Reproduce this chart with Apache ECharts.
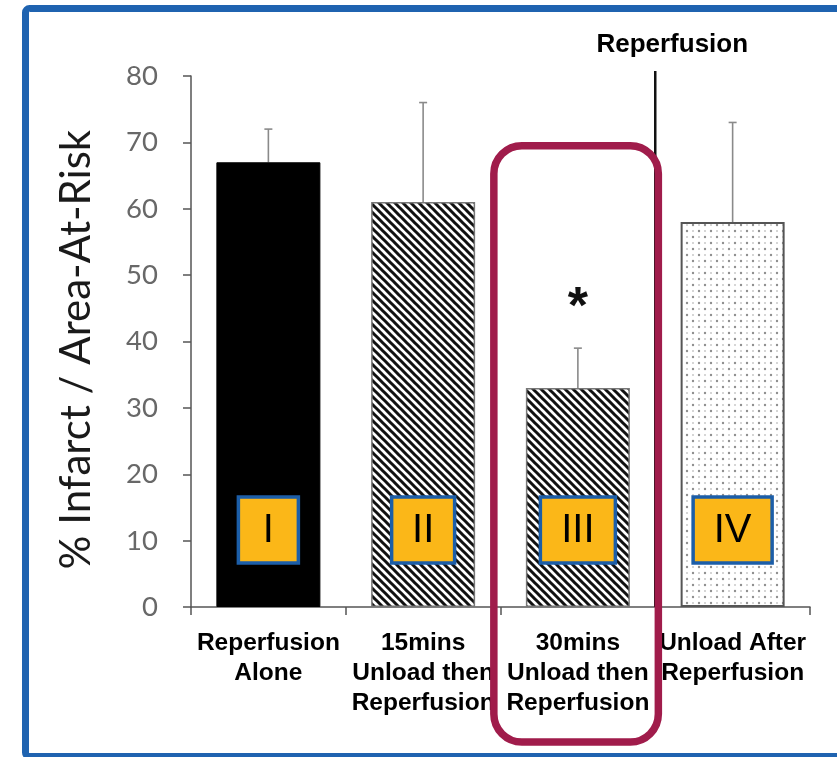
<!DOCTYPE html>
<html>
<head>
<meta charset="utf-8">
<script src="https://cdn.jsdelivr.net/npm/echarts@6/dist/echarts.min.js"></script>
<style>
html,body{margin:0;padding:0;background:#fff;}
#chart{width:837px;height:757px;}
</style>
</head>
<body>
<div id="chart"></div>
<script>
// ---- data ----
const categories = ['Reperfusion\nAlone', '15mins\nUnload then\nReperfusion', '30mins\nUnload then\nReperfusion', 'Unload After\nReperfusion'];
const values = [67, 61, 33, 58];
const errorsUp = [5, 15, 6, 15];
const groupNumerals = ['I', 'II', 'III', 'IV'];
const significance = ['', '', '*', ''];
const yTicks = [0, 10, 20, 30, 40, 50, 60, 70, 80];
const yAxisTitle = '% Infarct / Area-At-Risk';
const eventLabel = 'Reperfusion';

// ---- styles ----
const numeralBoxWidths = [60, 63, 75, 79];
const numeralLevel = 11.6;

function hatchPattern() {
  const s = 8, c = document.createElement('canvas');
  c.width = s; c.height = s;
  const g = c.getContext('2d');
  g.fillStyle = '#fff'; g.fillRect(0, 0, s, s);
  g.strokeStyle = '#111'; g.lineWidth = 3;
  g.beginPath();
  g.moveTo(-2, -2); g.lineTo(s + 2, s + 2);
  g.moveTo(-2, s - 2); g.lineTo(2, s + 2);
  g.moveTo(s - 2, -2); g.lineTo(s + 2, 2);
  g.stroke();
  return c;
}
function dotPattern() {
  const s = 12, c = document.createElement('canvas');
  c.width = s; c.height = s;
  const g = c.getContext('2d');
  g.fillStyle = '#fff'; g.fillRect(0, 0, s, s);
  const dot = (x, y, r, col) => { g.fillStyle = col; g.beginPath(); g.arc(x, y, r, 0, Math.PI * 2); g.fill(); };
  dot(3, 3, 1.2, '#8f8f8f');
  dot(9, 9, 1.2, '#8f8f8f');
  dot(9, 3, 1.0, '#c8c8c8');
  dot(3, 9, 1.0, '#c8c8c8');
  return c;
}

const fills = [
  { color: '#000', borderColor: '#000', borderWidth: 1 },
  { color: { image: hatchPattern(), repeat: 'repeat' }, borderColor: '#777', borderWidth: 1.5 },
  { color: { image: hatchPattern(), repeat: 'repeat' }, borderColor: '#777', borderWidth: 1.5 },
  { color: { image: dotPattern(), repeat: 'repeat' }, borderColor: '#555', borderWidth: 2 }
];

const chart = echarts.init(document.getElementById('chart'), null, { renderer: 'canvas' });

const option = {
  animation: false,
  backgroundColor: '#fff',
  grid: { left: 191, right: 27, top: 76, bottom: 150, containLabel: false, outerBoundsMode: 'none' },
  xAxis: {
    type: 'category',
    data: categories,
    boundaryGap: true,
    axisLine: { show: true, lineStyle: { color: '#555', width: 1.5 } },
    axisTick: { show: true, length: 8, alignWithLabel: false, lineStyle: { color: '#555', width: 1.5 } },
    axisLabel: {
      interval: 0, margin: 21, color: '#000', fontSize: 24.5, fontWeight: 'bold',
      fontFamily: '"Liberation Sans", Arial, sans-serif', lineHeight: 30
    },
    splitLine: { show: false }
  },
  yAxis: {
    type: 'value',
    min: yTicks[0], max: yTicks[yTicks.length - 1], interval: 10,
    name: yAxisTitle,
    nameLocation: 'middle',
    nameGap: 94,
    nameTextStyle: { fontSize: 42, color: '#1a1a1a', fontFamily: 'Lato, "Open Sans", sans-serif', padding: [0, 16, 0, 0] },
    axisLine: { show: true, lineStyle: { color: '#555', width: 1.5 } },
    axisTick: { show: true, length: 8, lineStyle: { color: '#555', width: 1.5 } },
    axisLabel: { margin: 33, color: '#686868', fontSize: 27.5, fontFamily: 'Lato, "Open Sans", sans-serif' },
    splitLine: { show: false }
  },
  series: [
    {
      type: 'custom',
      name: 'errors',
      z: 1,
      data: values.map((v, i) => [i, v, v + errorsUp[i]]),
      renderItem: function (params, api) {
        const i = params.dataIndex;
        const base = api.coord([api.value(0), api.value(1)]);
        const top = api.coord([api.value(0), api.value(2)]);
        const children = [
          { type: 'line', shape: { x1: base[0], y1: base[1], x2: top[0], y2: top[1] }, style: { stroke: '#8a8a8a', lineWidth: 1.6 } },
          { type: 'line', shape: { x1: top[0] - 4, y1: top[1], x2: top[0] + 4, y2: top[1] }, style: { stroke: '#8a8a8a', lineWidth: 1.6 } }
        ];
        if (significance[i]) {
          children.push({
            type: 'text',
            style: { text: significance[i], x: top[0], y: top[1] - 39, align: 'center', verticalAlign: 'middle',
              font: 'bold 52px "Liberation Sans", Arial, sans-serif', fill: '#111' }
          });
        }
        return { type: 'group', children: children };
      }
    },
    {
      type: 'bar',
      name: 'infarct',
      barWidth: 104,
      z: 2,
      data: values.map((v, i) => ({ value: v, itemStyle: fills[i] }))
    },
    {
      type: 'custom',
      name: 'numerals',
      z: 3,
      data: groupNumerals.map((n, i) => [i, numeralLevel]),
      renderItem: function (params, api) {
        const i = params.dataIndex;
        const p = api.coord([api.value(0), api.value(1)]);
        const w = numeralBoxWidths[i], h = 66;
        return {
          type: 'group',
          children: [
            { type: 'rect', shape: { x: p[0] - w / 2, y: p[1] - h / 2, width: w, height: h },
              style: { fill: '#fbb718', stroke: '#1c5ea8', lineWidth: 3.5 } },
            { type: 'text', style: { text: groupNumerals[i], x: p[0], y: p[1] + 1, align: 'center', verticalAlign: 'middle',
              font: '40px "Liberation Sans", Arial, sans-serif', fill: '#000' } }
          ]
        };
      }
    }
  ]
};
chart.setOption(option);

// ---- annotations derived from the axes ----
const c2 = chart.convertToPixel({ xAxisIndex: 0 }, 2);
const c3 = chart.convertToPixel({ xAxisIndex: 0 }, 3);
const band = c3 - c2;
const yTop = chart.convertToPixel({ yAxisIndex: 0 }, yTicks[yTicks.length - 1]);
const yBase = chart.convertToPixel({ yAxisIndex: 0 }, 0);
const boundary = (c2 + c3) / 2;
const boxLeft = c2 - 0.543 * band;
const boxRight = c2 + 0.52 * band;
const boxTop = chart.convertToPixel({ yAxisIndex: 0 }, 69.5);
const boxBottom = yBase + 135;

chart.setOption({
  graphic: [
    { type: 'rect', z: 100, silent: true,
      shape: { x: 25.5, y: 8.5, width: 840, height: 748, r: 4 },
      style: { fill: 'none', stroke: '#1f63b0', lineWidth: 7 } },
    { type: 'line', z: 90, silent: true,
      shape: { x1: boundary, y1: yTop - 5, x2: boundary, y2: yBase },
      style: { stroke: '#111', lineWidth: 2.5 } },
    { type: 'text', z: 100, silent: true,
      style: { text: eventLabel, x: boundary + 17, y: 45, align: 'center', verticalAlign: 'middle',
        font: 'bold 26px "Liberation Sans", Arial, sans-serif', fill: '#000' } },
    { type: 'rect', z: 95, silent: true,
      shape: { x: boxLeft, y: boxTop, width: boxRight - boxLeft, height: boxBottom - boxTop, r: 28 },
      style: { fill: 'none', stroke: '#a01c4b', lineWidth: 7.5 } }
  ]
});
</script>
</body>
</html>
